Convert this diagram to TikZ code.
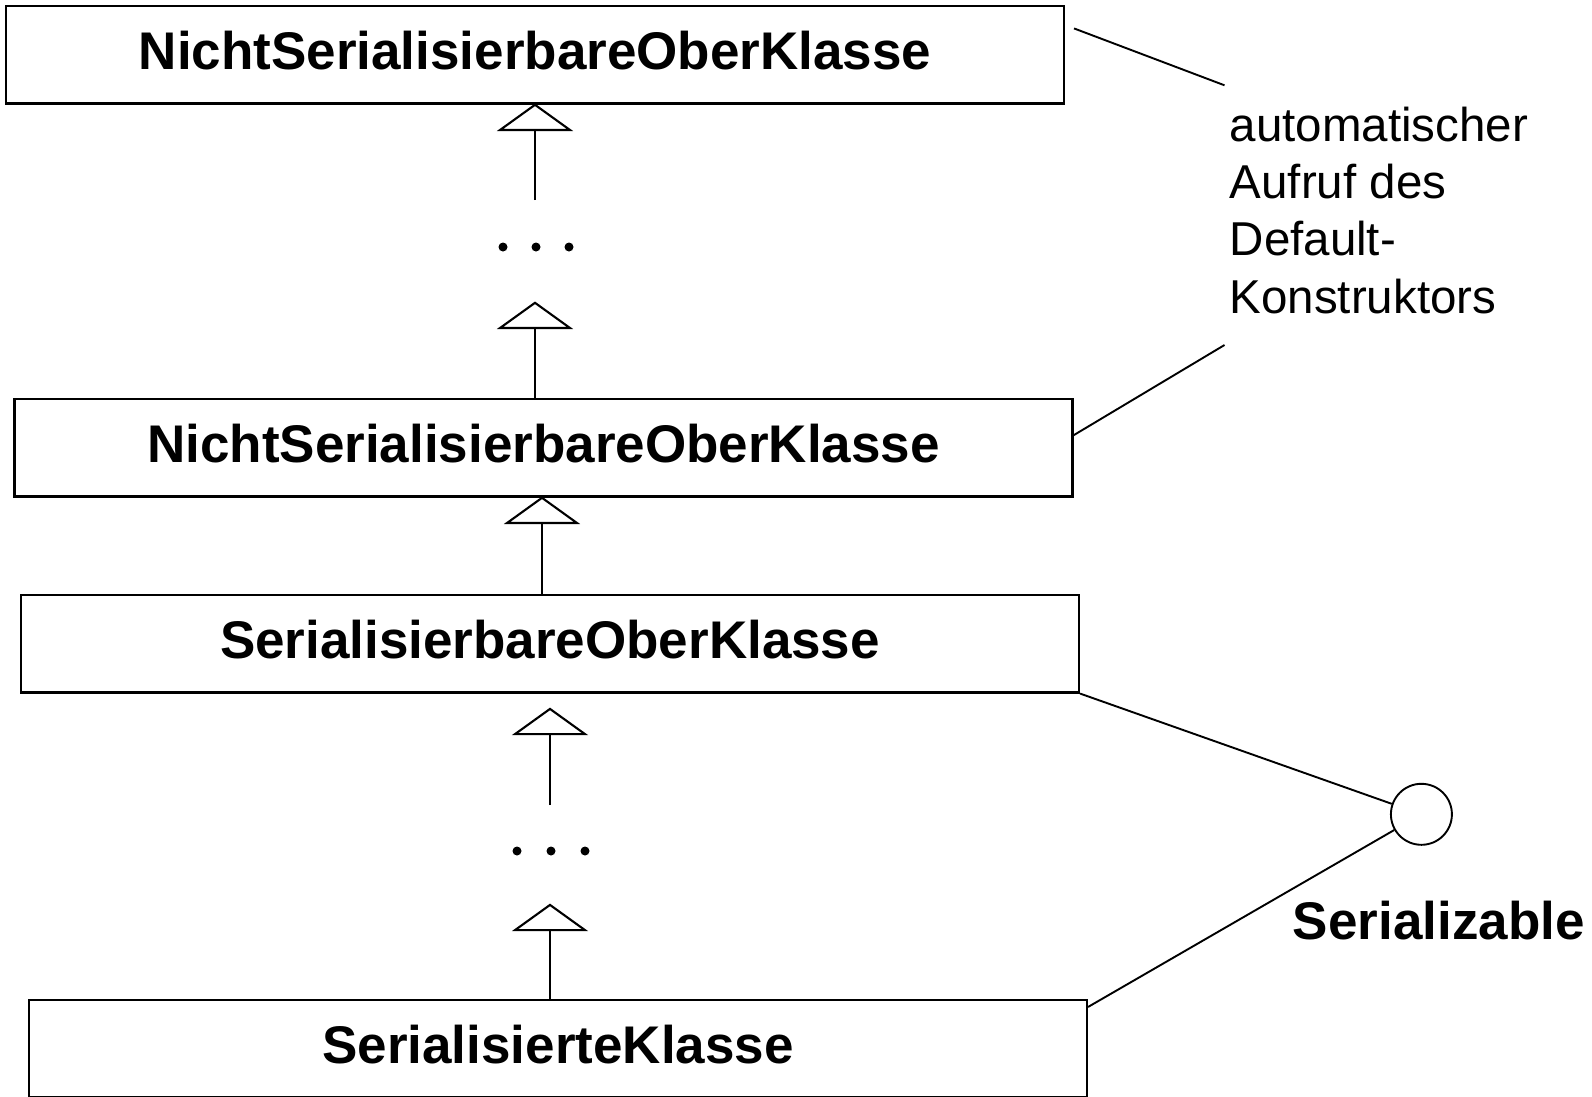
\documentclass[tikz,border=0pt]{standalone}
\usepackage{fontspec}
\setmainfont{Liberation Sans}
\usetikzlibrary{arrows.meta,calc}
\begin{document}
\begin{tikzpicture}[x=1pt,y=-1pt,
  cls/.style={draw, line width=2.1pt, minimum width=1058pt, minimum height=97.5pt, inner sep=0pt,
    text depth=8pt, font=\fontsize{53}{60}\selectfont\bfseries},
  gen/.style={line width=2.1pt, -{Triangle[open, length=27.5pt, width=76pt]}},
  blob/.style={circle, fill=black, inner sep=0pt, minimum size=9pt},
  notelink/.style={line width=1.9pt},
  iface/.style={circle, draw, line width=1.9pt, minimum size=61pt, inner sep=0pt}]
\useasboundingbox (0,0) rectangle (1592,1096);
% classes
\node[cls] (c1) at (535,54.75) {NichtSerialisierbareOberKlasse};
\node[cls] (c2) at (543.5,447.75) {NichtSerialisierbareOberKlasse};
\node[cls] (c3) at (550,643.75) {SerialisierbareOberKlasse};
\node[cls] (c4) at (558,1048.75) {SerialisierteKlasse};
% ellipses
\node[blob] (d1a) at (503,247) {};
\node[blob] (d1b) at (536,247) {};
\node[blob] (d1c) at (569,247) {};
\node[blob] (d2a) at (517,851) {};
\node[blob] (d2b) at (551,851) {};
\node[blob] (d2c) at (585,851) {};
% generalisation ends
\coordinate (g1a) at (535,200);
\coordinate (g1b) at (535,103.5);
\coordinate (g2a) at (535,399);
\coordinate (g2b) at (535,301.5);
\coordinate (g3a) at (542,595);
\coordinate (g3b) at (542,496.5);
\coordinate (g4a) at (550,805);
\coordinate (g4b) at (550,707.6);
\coordinate (g5a) at (550,1000);
\coordinate (g5b) at (550,903.6);
\draw[gen] (g1a) -- (g1b);
\draw[gen] (g2a) -- (g2b);
\draw[gen] (g3a) -- (g3b);
\draw[gen] (g4a) -- (g4b);
\draw[gen] (g5a) -- (g5b);
% note
\node[anchor=north west, inner sep=0pt, align=left, font=\fontsize{47.5}{57.4}\selectfont] (note) at (1229.5,106.5)
  {automatischer\\Aufruf des\\Default-\\Konstruktors};
\coordinate (n1a) at (1074,28.4);
\coordinate (n1b) at (1224.5,85.3);
\coordinate (n2a) at (1224.5,345);
\coordinate (n2b) at (1073,435.6);
\draw[notelink] (n1a) -- (n1b);
\draw[notelink] (n2a) -- (n2b);
% interface
\node[iface] (ser) at (1421.4,814.3) {};
\node[font=\fontsize{53}{60}\selectfont\bfseries, inner sep=0pt] (serlab) at (1438.75,921) {Serializable};
\coordinate (c4r) at ($(c4.north east)+(0,8)$);
\draw[notelink] (c3.south east) -- (ser);
\draw[notelink] (c4r) -- (ser);
\end{tikzpicture}
\end{document}
